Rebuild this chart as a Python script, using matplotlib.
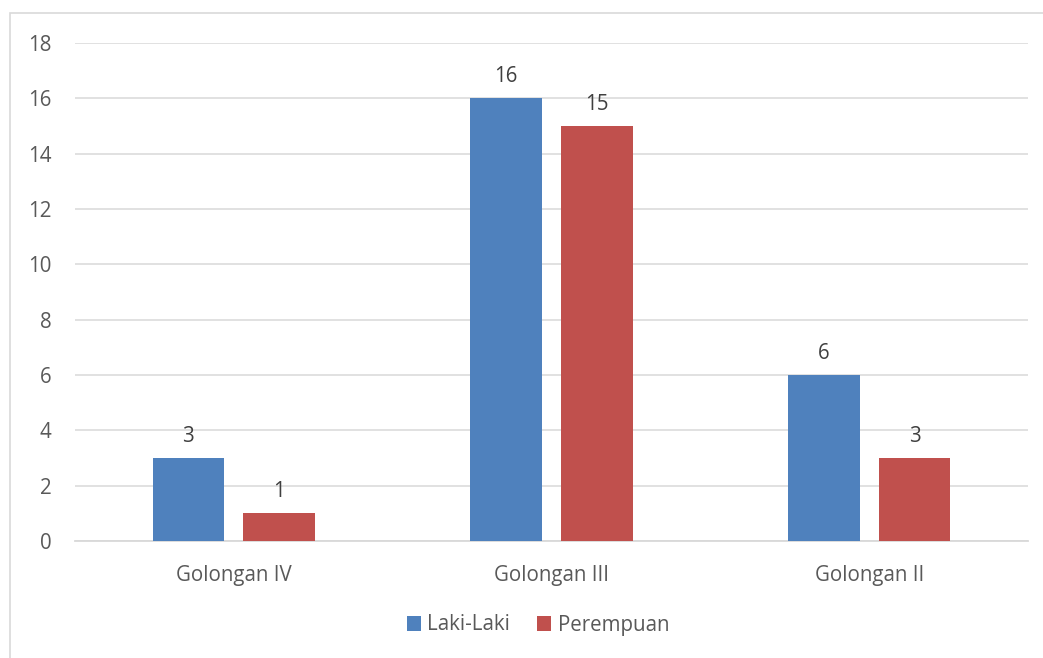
import matplotlib
matplotlib.use("Agg")
import matplotlib.pyplot as plt
from matplotlib.patches import Rectangle
import numpy as np

categories = ["Golongan IV", "Golongan III", "Golongan II"]
series_names = ["Laki-Laki", "Perempuan"]
laki_laki = [3, 16, 6]
perempuan = [1, 15, 3]
y_ticks = [0, 2, 4, 6, 8, 10, 12, 14, 16, 18]

BLUE = "#4F81BD"
RED = "#C0504D"
TEXT = "#595959"
GRID = "#D9D9D9"
FS = 14.8

plt.rcParams["font.family"] = ["Open Sans", "DejaVu Sans"]

W, H = 1043, 658
fig = plt.figure(figsize=(W / 100, H / 100), dpi=100)
ax = fig.add_axes([75 / W, (H - 541) / H, (1028 - 75) / W, (541 - 43) / H])

# outer chart frame
fig.patches.append(Rectangle((10 / W, -0.1), 1.2, (H - 13) / H + 0.1,
                             transform=fig.transFigure, fill=False,
                             edgecolor=GRID, linewidth=1.2))

x = np.arange(len(categories))
width = 0.226
offset = 0.143
b1 = ax.bar(x - offset, laki_laki, width, color=BLUE, label=series_names[0], zorder=3)
b2 = ax.bar(x + offset, perempuan, width, color=RED, label=series_names[1], zorder=3)

for bars, vals in ((b1, laki_laki), (b2, perempuan)):
    for rect, v in zip(bars, vals):
        ax.annotate(str(v), (rect.get_x() + rect.get_width() / 2, v),
                    xytext=(0, 8), textcoords="offset points",
                    ha="center", va="bottom", fontsize=FS, color="#404040")

ax.set_xlim(-0.5, len(categories) - 0.5)
ax.set_ylim(0, 18)
ax.set_yticks(y_ticks)
ax.set_xticks(x)
ax.set_xticklabels(categories)
ax.tick_params(axis="y", length=0, pad=17, labelsize=FS, labelcolor=TEXT)
ax.tick_params(axis="x", length=0, pad=17.5, labelsize=FS, labelcolor=TEXT)
ax.grid(axis="y", color=GRID, linewidth=1.1, zorder=0)
for s in ["top", "right", "left"]:
    ax.spines[s].set_visible(False)
ax.spines["bottom"].set_color(GRID)
ax.spines["bottom"].set_linewidth(1.3)

leg = fig.legend(loc="center", bbox_to_anchor=(538 / W, (H - 625) / H),
                 ncol=2, frameon=False, fontsize=FS, handlelength=0.7,
                 handleheight=0.7, handletextpad=0.3, columnspacing=1.3,
                 labelcolor=TEXT)

fig.savefig("out.png", dpi=100, facecolor="white")
